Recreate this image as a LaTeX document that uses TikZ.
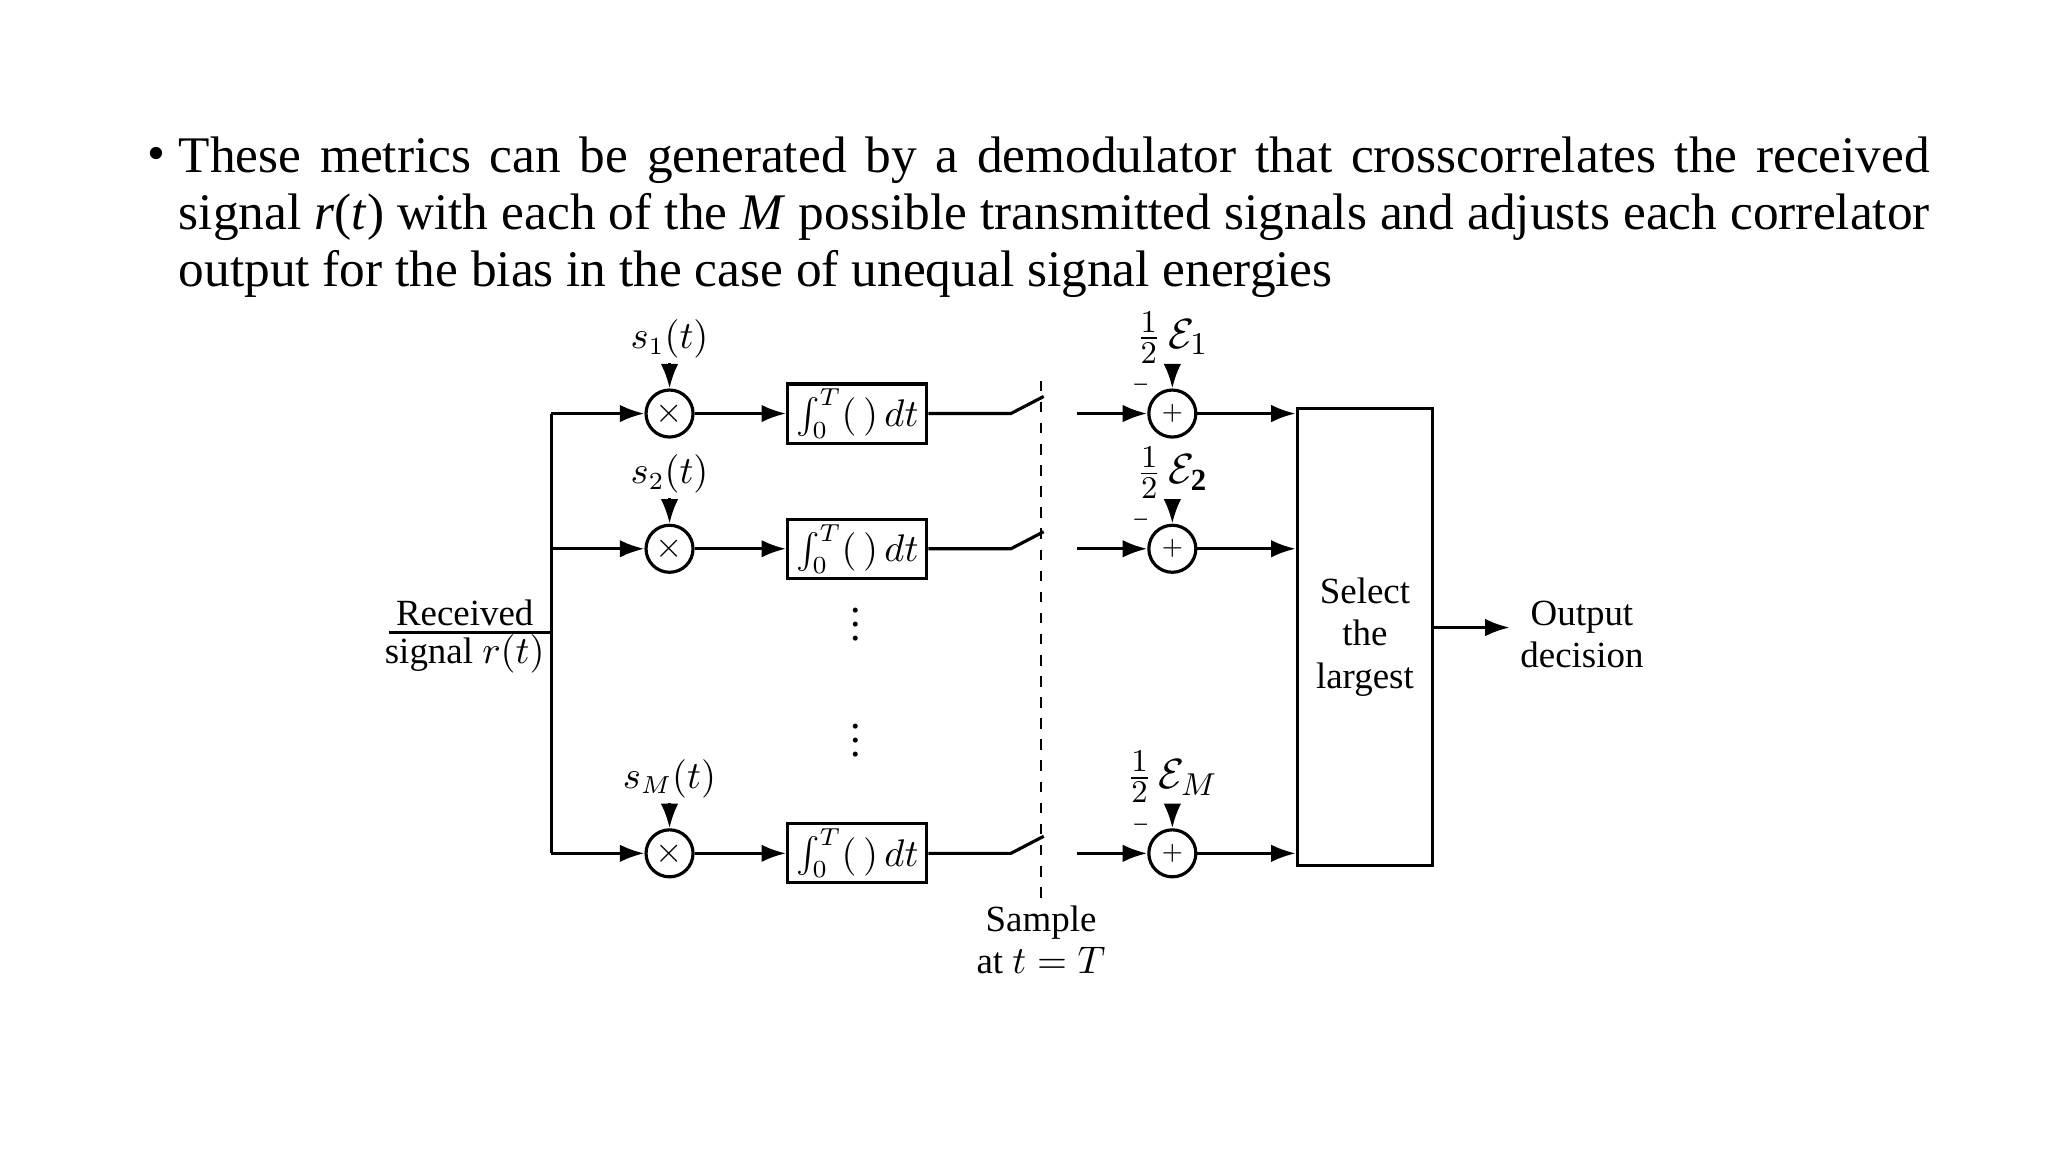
\documentclass[tikz,border=0pt]{standalone}
\usepackage{fontspec}
\setmainfont{Liberation Serif}
\usetikzlibrary{arrows.meta}
\begin{document}
\begin{tikzpicture}[x=0.01313cm,y=-0.01313cm,
  line width=0.9pt,
  arr/.style={-{Latex[length=7pt,width=5pt]}},
  mul/.style={circle,draw,minimum size=0.47cm,inner sep=0pt},
  intbox/.style={draw,minimum width=106*0.01313cm,minimum height=45*0.01313cm,inner sep=0pt,font=\fontsize{10.5}{12}\selectfont},
  lab/.style={font=\fontsize{10.5}{12}\selectfont,inner sep=1pt}]
\useasboundingbox (0,0) rectangle (1560,877.4);
\node[anchor=north west,text width=498pt,align=justify,inner sep=0pt,font=\fontsize{14.6}{16.2}\selectfont] (txt) at (135,103)
 {These metrics can be generated by a demodulator that crosscorrelates the received signal \textit{r}(\textit{t}) with each of the \textit{M} possible transmitted signals and adjusts each correlator output for the bias in the case of unequal signal energies};
\node[font=\fontsize{14.6}{16}\selectfont,inner sep=0pt] (bul) at (119,121) {•};

\foreach \r/\y/\s/\e in {1/315/s_1(t)/\mathcal{E}_1,2/418/s_2(t)/\mathcal{E}_{\mathbf{2}},3/650/s_M(t)/\mathcal{E}_M}{
  \node[mul] (m\r) at (510,\y) {$\times$};
  \node[lab] (sl\r) at (510,\y-57) {$\s$};
  \draw[arr] (sl\r) -- (m\r);
  \node[intbox] (i\r) at (653,\y) {$\int_0^T(\,)\,dt$};
  \draw[arr] (m\r) -- (i\r);
  \coordinate (sw\r a) at (770,\y);
  \coordinate (sw\r b) at (795,\y-13);
  \draw (i\r.east) -- (sw\r a) -- (sw\r b);
  \coordinate (sw\r c) at (820,\y);
  \node[mul] (a\r) at (893,\y) {\scriptsize $+$};
  \draw[arr] (sw\r c) -- (a\r);
  \node[lab,font=\fontsize{12.5}{13}\selectfont] (el\r) at (893,\y-58) {$\frac12\,\e$};
  \draw[arr] (el\r) -- (a\r);
  \node[lab,font=\scriptsize] (mn\r) at (869,\y-20) {--};
  \coordinate (bx\r) at (987,\y);
  \draw[arr] (a\r) -- (bx\r);
  \coordinate (bus\r) at (420,\y);
  \draw[arr] (bus\r) -- (m\r);
}
\draw (bus1) -- (bus3);
\node[draw,minimum width=103*0.01313cm,minimum height=348*0.01313cm,inner sep=0pt,anchor=north west,align=center,lab,font=\fontsize{10.5}{12}\selectfont] (sel) at (987,310) {Select\\the\\largest};
\node[lab,align=center,font=\fontsize{10.5}{12}\selectfont] (out) at (1205,483) {Output\\decision};
\coordinate (oa) at (1150,478);
\draw[arr] (sel.east |- oa) -- (oa);
\coordinate (rin) at (296,482);
\coordinate (rbus) at (420,482);
\draw (rin) -- (rbus);
\node[lab,font=\fontsize{10.5}{12}\selectfont] (rl1) at (354,467) {Received};
\node[lab,font=\fontsize{10.5}{12}\selectfont] (rl2) at (354,498) {signal $r(t)$};
\coordinate (dtop) at (793,290);
\coordinate (dbot) at (793,690);
\draw[dashed,line width=0.7pt] (dtop) -- (dbot);
\node[lab,align=center,font=\fontsize{10.5}{12}\selectfont] (samp) at (793,716) {Sample\\at $t=T$};
\node[lab,font=\large] (d1) at (652,468) {$\vdots$};
\node[lab,font=\large] (d2) at (652,556) {$\vdots$};
\end{tikzpicture}
\end{document}
